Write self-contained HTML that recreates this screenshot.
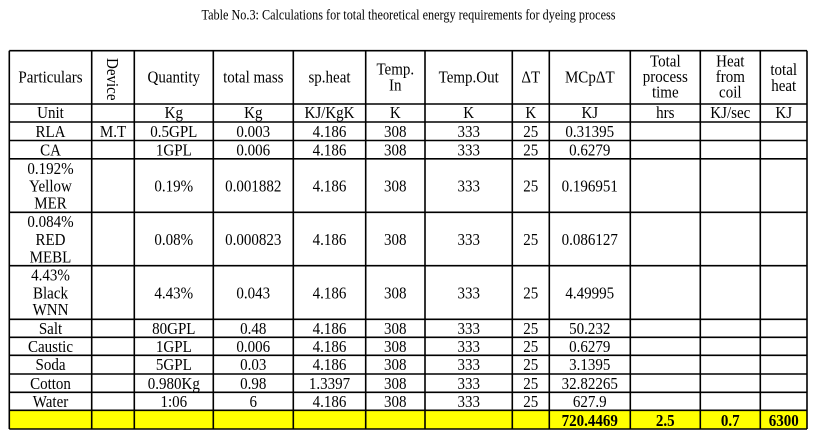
<!DOCTYPE html>
<html>
<head>
<meta charset="utf-8">
<style>
html,body{margin:0;padding:0;background:#fff;}
svg{display:block;}
text{font-family:"Liberation Serif","DejaVu Serif",serif;font-size:16.5px;fill:#000;text-anchor:middle;}
.b{font-weight:bold;}
</style>
</head>
<body>
<svg width="814" height="442" viewBox="0 0 814 442" xmlns="http://www.w3.org/2000/svg">
<rect x="0" y="0" width="814" height="442" fill="#fff"/>
<text x="408.5" y="19.3" style="font-size:14.5px" textLength="414" lengthAdjust="spacingAndGlyphs">Table No.3: Calculations for total theoretical energy requirements for dyeing process</text>

<rect x="9.3" y="410.3" width="797.7" height="18.7" fill="#ffff00"/>

<g stroke="#000" stroke-width="1.6" fill="none">
<!-- horizontal lines -->
<line x1="9.3" y1="50.7" x2="807" y2="50.7"/>
<line x1="9.3" y1="104" x2="807" y2="104"/>
<line x1="9.3" y1="122" x2="807" y2="122"/>
<line x1="9.3" y1="140.5" x2="807" y2="140.5"/>
<line x1="9.3" y1="158.8" x2="807" y2="158.8"/>
<line x1="9.3" y1="212.3" x2="807" y2="212.3"/>
<line x1="9.3" y1="265.7" x2="807" y2="265.7"/>
<line x1="9.3" y1="319.3" x2="807" y2="319.3"/>
<line x1="9.3" y1="337.3" x2="807" y2="337.3"/>
<line x1="9.3" y1="355.3" x2="807" y2="355.3"/>
<line x1="9.3" y1="374" x2="807" y2="374"/>
<line x1="9.3" y1="392.3" x2="807" y2="392.3"/>
<line x1="9.3" y1="410.3" x2="807" y2="410.3"/>
<line x1="9.3" y1="429" x2="807" y2="429"/>
<!-- vertical lines -->
<line x1="9.3" y1="50.7" x2="9.3" y2="429"/>
<line x1="91.7" y1="50.7" x2="91.7" y2="429"/>
<line x1="134.3" y1="50.7" x2="134.3" y2="429"/>
<line x1="213.3" y1="50.7" x2="213.3" y2="429"/>
<line x1="293.3" y1="50.7" x2="293.3" y2="429"/>
<line x1="365.7" y1="50.7" x2="365.7" y2="429"/>
<line x1="425" y1="50.7" x2="425" y2="429"/>
<line x1="512.3" y1="50.7" x2="512.3" y2="429"/>
<line x1="549.3" y1="50.7" x2="549.3" y2="429"/>
<line x1="630.3" y1="50.7" x2="630.3" y2="429"/>
<line x1="700.3" y1="50.7" x2="700.3" y2="429"/>
<line x1="760.3" y1="50.7" x2="760.3" y2="429"/>
<line x1="807" y1="50.7" x2="807" y2="429"/>
</g>

<!-- Header -->
<text transform="translate(50.5,82.3) scale(.91,1)">Particulars</text>
<text transform="translate(107,58) rotate(90) scale(.91,1)" style="text-anchor:start">Device</text>
<text transform="translate(173.8,82.3) scale(.91,1)">Quantity</text>
<text transform="translate(253.3,82.3) scale(.91,1)">total mass</text>
<text transform="translate(329.5,82.3) scale(.91,1)">sp.heat</text>
<text transform="translate(395.3,74.7) scale(.91,1)">Temp.</text>
<text transform="translate(395.3,90.7) scale(.91,1)">In</text>
<text transform="translate(468.7,82.3) scale(.91,1)">Temp.Out</text>
<text transform="translate(530.8,82.3) scale(.91,1)">ΔT</text>
<text transform="translate(589.8,82.3) scale(.91,1)">MCpΔT</text>
<text transform="translate(665.3,66.3) scale(.91,1)">Total</text>
<text transform="translate(665.3,81.8) scale(.91,1)">process</text>
<text transform="translate(665.3,97.3) scale(.91,1)">time</text>
<text transform="translate(730.3,66.3) scale(.91,1)">Heat</text>
<text transform="translate(730.3,81.8) scale(.91,1)">from</text>
<text transform="translate(730.3,97.3) scale(.91,1)">coil</text>
<text transform="translate(783.7,75) scale(.91,1)">total</text>
<text transform="translate(783.7,91) scale(.91,1)">heat</text>

<!-- Unit row -->
<text transform="translate(50.5,118) scale(.91,1)">Unit</text>
<text transform="translate(173.8,118) scale(.91,1)">Kg</text>
<text transform="translate(253.3,118) scale(.91,1)">Kg</text>
<text transform="translate(329.5,118) scale(.91,1)">KJ/KgK</text>
<text transform="translate(395.3,118) scale(.91,1)">K</text>
<text transform="translate(468.7,118) scale(.91,1)">K</text>
<text transform="translate(530.8,118) scale(.91,1)">K</text>
<text transform="translate(589.8,118) scale(.91,1)">KJ</text>
<text transform="translate(665.3,118) scale(.91,1)">hrs</text>
<text transform="translate(730.3,118) scale(.91,1)">KJ/sec</text>
<text transform="translate(783.7,118) scale(.91,1)">KJ</text>

<!-- RLA -->
<text transform="translate(50.5,137.2) scale(.91,1)">RLA</text>
<text transform="translate(113,137.2) scale(.91,1)">M.T</text>
<text transform="translate(173.8,137.2) scale(.91,1)">0.5GPL</text>
<text transform="translate(253.3,137.2) scale(.91,1)">0.003</text>
<text transform="translate(329.5,137.2) scale(.91,1)">4.186</text>
<text transform="translate(395.3,137.2) scale(.91,1)">308</text>
<text transform="translate(468.7,137.2) scale(.91,1)">333</text>
<text transform="translate(530.8,137.2) scale(.91,1)">25</text>
<text transform="translate(589.8,137.2) scale(.91,1)">0.31395</text>

<!-- CA -->
<text transform="translate(50.5,155.4) scale(.91,1)">CA</text>
<text transform="translate(173.8,155.4) scale(.91,1)">1GPL</text>
<text transform="translate(253.3,155.4) scale(.91,1)">0.006</text>
<text transform="translate(329.5,155.4) scale(.91,1)">4.186</text>
<text transform="translate(395.3,155.4) scale(.91,1)">308</text>
<text transform="translate(468.7,155.4) scale(.91,1)">333</text>
<text transform="translate(530.8,155.4) scale(.91,1)">25</text>
<text transform="translate(589.8,155.4) scale(.91,1)">0.6279</text>

<!-- Yellow MER -->
<text transform="translate(50.5,174) scale(.91,1)">0.192%</text>
<text transform="translate(50.5,191.7) scale(.91,1)">Yellow</text>
<text transform="translate(50.5,208.4) scale(.91,1)">MER</text>
<text transform="translate(173.8,191.7) scale(.91,1)">0.19%</text>
<text transform="translate(253.3,191.7) scale(.91,1)">0.001882</text>
<text transform="translate(329.5,191.7) scale(.91,1)">4.186</text>
<text transform="translate(395.3,191.7) scale(.91,1)">308</text>
<text transform="translate(468.7,191.7) scale(.91,1)">333</text>
<text transform="translate(530.8,191.7) scale(.91,1)">25</text>
<text transform="translate(589.8,191.7) scale(.91,1)">0.196951</text>

<!-- RED MEBL -->
<text transform="translate(50.5,226.8) scale(.91,1)">0.084%</text>
<text transform="translate(50.5,245) scale(.91,1)">RED</text>
<text transform="translate(50.5,262.7) scale(.91,1)">MEBL</text>
<text transform="translate(173.8,245) scale(.91,1)">0.08%</text>
<text transform="translate(253.3,245) scale(.91,1)">0.000823</text>
<text transform="translate(329.5,245) scale(.91,1)">4.186</text>
<text transform="translate(395.3,245) scale(.91,1)">308</text>
<text transform="translate(468.7,245) scale(.91,1)">333</text>
<text transform="translate(530.8,245) scale(.91,1)">25</text>
<text transform="translate(589.8,245) scale(.91,1)">0.086127</text>

<!-- Black WNN -->
<text transform="translate(50.5,280.3) scale(.91,1)">4.43%</text>
<text transform="translate(50.5,298.3) scale(.91,1)">Black</text>
<text transform="translate(50.5,315.2) scale(.91,1)">WNN</text>
<text transform="translate(173.8,298.3) scale(.91,1)">4.43%</text>
<text transform="translate(253.3,298.3) scale(.91,1)">0.043</text>
<text transform="translate(329.5,298.3) scale(.91,1)">4.186</text>
<text transform="translate(395.3,298.3) scale(.91,1)">308</text>
<text transform="translate(468.7,298.3) scale(.91,1)">333</text>
<text transform="translate(530.8,298.3) scale(.91,1)">25</text>
<text transform="translate(589.8,298.3) scale(.91,1)">4.49995</text>

<!-- Salt -->
<text transform="translate(50.5,334) scale(.91,1)">Salt</text>
<text transform="translate(173.8,334) scale(.91,1)">80GPL</text>
<text transform="translate(253.3,334) scale(.91,1)">0.48</text>
<text transform="translate(329.5,334) scale(.91,1)">4.186</text>
<text transform="translate(395.3,334) scale(.91,1)">308</text>
<text transform="translate(468.7,334) scale(.91,1)">333</text>
<text transform="translate(530.8,334) scale(.91,1)">25</text>
<text transform="translate(589.8,334) scale(.91,1)">50.232</text>

<!-- Caustic -->
<text transform="translate(50.5,351.8) scale(.91,1)">Caustic</text>
<text transform="translate(173.8,351.8) scale(.91,1)">1GPL</text>
<text transform="translate(253.3,351.8) scale(.91,1)">0.006</text>
<text transform="translate(329.5,351.8) scale(.91,1)">4.186</text>
<text transform="translate(395.3,351.8) scale(.91,1)">308</text>
<text transform="translate(468.7,351.8) scale(.91,1)">333</text>
<text transform="translate(530.8,351.8) scale(.91,1)">25</text>
<text transform="translate(589.8,351.8) scale(.91,1)">0.6279</text>

<!-- Soda -->
<text transform="translate(50.5,370.2) scale(.91,1)">Soda</text>
<text transform="translate(173.8,370.2) scale(.91,1)">5GPL</text>
<text transform="translate(253.3,370.2) scale(.91,1)">0.03</text>
<text transform="translate(329.5,370.2) scale(.91,1)">4.186</text>
<text transform="translate(395.3,370.2) scale(.91,1)">308</text>
<text transform="translate(468.7,370.2) scale(.91,1)">333</text>
<text transform="translate(530.8,370.2) scale(.91,1)">25</text>
<text transform="translate(589.8,370.2) scale(.91,1)">3.1395</text>

<!-- Cotton -->
<text transform="translate(50.5,389) scale(.91,1)">Cotton</text>
<text transform="translate(173.8,389) scale(.91,1)">0.980Kg</text>
<text transform="translate(253.3,389) scale(.91,1)">0.98</text>
<text transform="translate(329.5,389) scale(.91,1)">1.3397</text>
<text transform="translate(395.3,389) scale(.91,1)">308</text>
<text transform="translate(468.7,389) scale(.91,1)">333</text>
<text transform="translate(530.8,389) scale(.91,1)">25</text>
<text transform="translate(589.8,389) scale(.91,1)">32.82265</text>

<!-- Water -->
<text transform="translate(50.5,407) scale(.91,1)">Water</text>
<text transform="translate(173.8,407) scale(.91,1)">1:06</text>
<text transform="translate(253.3,407) scale(.91,1)">6</text>
<text transform="translate(329.5,407) scale(.91,1)">4.186</text>
<text transform="translate(395.3,407) scale(.91,1)">308</text>
<text transform="translate(468.7,407) scale(.91,1)">333</text>
<text transform="translate(530.8,407) scale(.91,1)">25</text>
<text transform="translate(589.8,407) scale(.91,1)">627.9</text>

<!-- Totals -->
<text class="b" transform="translate(589.8,426) scale(.91,1)">720.4469</text>
<text class="b" transform="translate(665.3,426) scale(.91,1)">2.5</text>
<text class="b" transform="translate(730.3,426) scale(.91,1)">0.7</text>
<text class="b" transform="translate(783.7,426) scale(.91,1)">6300</text>
</svg>
</body>
</html>
